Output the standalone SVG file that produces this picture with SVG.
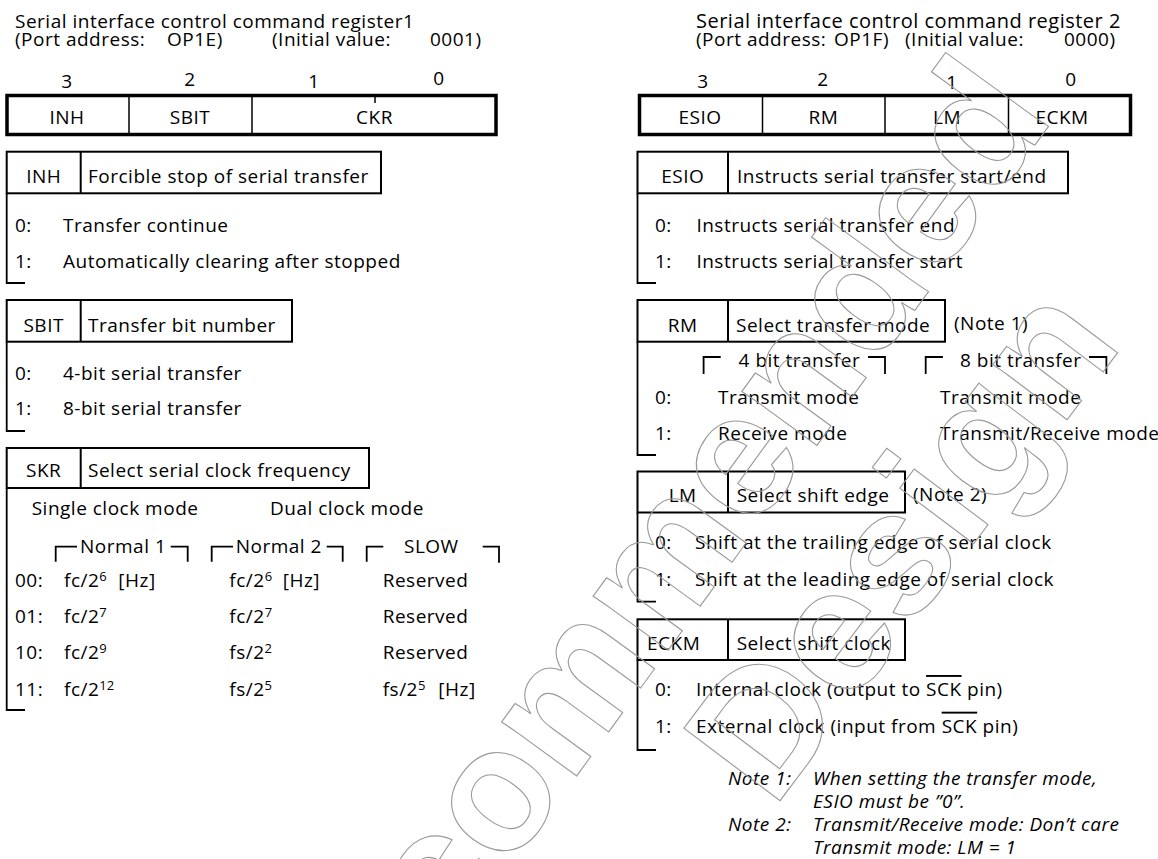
<svg xmlns="http://www.w3.org/2000/svg" width="1158" height="859" viewBox="0 0 1158 859">
<style>
text{font-family:"Open Sans","Noto Sans","DejaVu Sans",sans-serif;font-size:19px;letter-spacing:0.5px;fill:#000}
.m{text-anchor:middle}
.it{font-style:italic}
.sup{font-size:13px;letter-spacing:0}
.t2{font-size:20px}
.reg{fill:none;stroke:#000;stroke-width:3.5}
.dv{stroke:#000;stroke-width:1.5}
.hb{fill:none;stroke:#000;stroke-width:2}
.br{fill:none;stroke:#000;stroke-width:1.8}
.wm text{font-family:"Liberation Sans",Arial,sans-serif;font-weight:bold;font-size:175px;letter-spacing:0;fill:none;stroke:#9a9a9a;stroke-width:1.1}
</style>
<rect width="1158" height="859" fill="#fff"/>

<g id="title-left">
<text x="15" y="28">Serial interface control command register1</text>
<text x="15" y="46">(Port address:</text>
<text x="167" y="46">OP1E)</text>
<text x="272" y="46">(Initial value:</text>
<text x="430" y="46">0001)</text>
</g>

<g id="register1">
<text class="m" x="67" y="88">3</text>
<text class="m" x="190" y="85.5">2</text>
<text class="m" x="314" y="87.5">1</text>
<text class="m" x="439" y="84.5">0</text>
<rect class="reg" x="7" y="95.5" width="489" height="39"/>
<line class="dv" x1="129" y1="97" x2="129" y2="133"/>
<line class="dv" x1="252" y1="97" x2="252" y2="133"/>
<line class="dv" x1="375" y1="97" x2="375" y2="103"/>
<text class="m" x="67" y="123.5">INH</text>
<text class="m" x="190" y="123.5">SBIT</text>
<text class="m" x="374.5" y="123.5">CKR</text>
</g>

<g id="inh">
<rect class="hb" x="6.7" y="151.7" width="374.3" height="41.6"/>
<line class="hb" x1="80.7" y1="151.7" x2="80.7" y2="193.3"/>
<text class="m" x="43.7" y="183.3">INH</text>
<text x="88" y="183.3">Forcible stop of serial transfer</text>
<polyline class="br" points="6.7,193.3 6.7,283 25,283"/>
<text x="15" y="231.7">0:</text><text x="63" y="231.7">Transfer continue</text>
<text x="15" y="268">1:</text><text x="63" y="268">Automatically clearing after stopped</text>
</g>

<g id="sbit">
<rect class="hb" x="6.7" y="300" width="285.3" height="41.7"/>
<line class="hb" x1="80.7" y1="300" x2="80.7" y2="341.7"/>
<text class="m" x="43.7" y="331.7">SBIT</text>
<text x="88" y="331.7">Transfer bit number</text>
<polyline class="br" points="6.7,341.7 6.7,431 25,431"/>
<text x="15" y="380">0:</text><text x="63" y="380">4-bit serial transfer</text>
<text x="15" y="415">1:</text><text x="63" y="415">8-bit serial transfer</text>
</g>

<g id="skr">
<rect class="hb" x="6.7" y="448" width="362.3" height="40"/>
<line class="hb" x1="80.7" y1="448" x2="80.7" y2="488"/>
<text class="m" x="43.7" y="477">SKR</text>
<text x="88" y="477">Select serial clock frequency</text>
<polyline class="br" points="6.7,488 6.7,710 25,710"/>
<text x="31.7" y="515">Single clock mode</text>
<text x="270" y="515">Dual clock mode</text>
<polyline class="br" points="55.7,561.7 55.7,546.7 77,546.7"/>
<text x="80" y="552.7">Normal 1</text>
<polyline class="br" points="170.7,546.7 187.7,546.7 187.7,561.7"/>
<polyline class="br" points="211.7,561.7 211.7,546.7 233,546.7"/>
<text x="235.7" y="552.7">Normal 2</text>
<polyline class="br" points="326.7,546.7 342.7,546.7 342.7,561.7"/>
<polyline class="br" points="366.7,561.7 366.7,546.7 383.3,546.7"/>
<text x="404" y="552.7">SLOW</text>
<polyline class="br" points="482.7,546.7 499,546.7 499,562.7"/>

<text x="15" y="586.7">00:</text>
<text x="64" y="586.7">fc/2<tspan class="sup" dy="-6">6</tspan></text><text x="118.3" y="586.7">[Hz]</text>
<text x="229.3" y="586.7">fc/2<tspan class="sup" dy="-6">6</tspan></text><text x="282.7" y="586.7">[Hz]</text>
<text x="382.7" y="586.7">Reserved</text>

<text x="15" y="622.7">01:</text>
<text x="64" y="622.7">fc/2<tspan class="sup" dy="-6">7</tspan></text>
<text x="229.3" y="622.7">fc/2<tspan class="sup" dy="-6">7</tspan></text>
<text x="382.7" y="622.7">Reserved</text>

<text x="15" y="659.3">10:</text>
<text x="64" y="659.3">fc/2<tspan class="sup" dy="-6">9</tspan></text>
<text x="229.3" y="659.3">fs/2<tspan class="sup" dy="-6">2</tspan></text>
<text x="382.7" y="659.3">Reserved</text>

<text x="15" y="695.7">11:</text>
<text x="64" y="695.7">fc/2<tspan class="sup" dy="-6">12</tspan></text>
<text x="229.3" y="695.7">fs/2<tspan class="sup" dy="-6">5</tspan></text>
<text x="382.7" y="695.7">fs/2<tspan class="sup" dy="-6">5</tspan></text><text x="438.3" y="695.7">[Hz]</text>
</g>

<g id="title-right">
<text class="t2" x="696" y="28">Serial interface control command register 2</text>
<text x="696" y="46">(Port address:</text>
<text x="834" y="46">OP1F)</text>
<text x="905" y="46">(Initial value:</text>
<text x="1064" y="46">0000)</text>
</g>

<g id="register2">
<text class="m" x="703" y="88">3</text>
<text class="m" x="823" y="85.5">2</text>
<text class="m" x="952" y="89">1</text>
<text class="m" x="1071" y="85.5">0</text>
<rect class="reg" x="639.5" y="95.5" width="491" height="39"/>
<line class="dv" x1="762.5" y1="97" x2="762.5" y2="133"/>
<line class="dv" x1="885" y1="97" x2="885" y2="133"/>
<line class="dv" x1="1008.5" y1="97" x2="1008.5" y2="133"/>
<text class="m" x="700" y="123.5">ESIO</text>
<text class="m" x="823.5" y="123.5">RM</text>
<text class="m" x="947" y="123.5">LM</text>
<text class="m" x="1062" y="123.5">ECKM</text>
</g>

<g id="esio">
<rect class="hb" x="637.5" y="151.7" width="430.5" height="41.6"/>
<line class="hb" x1="728" y1="151.7" x2="728" y2="193.3"/>
<text class="m" x="682.7" y="183">ESIO</text>
<text x="737" y="183">Instructs serial transfer start/end</text>
<polyline class="br" points="637.5,193.3 637.5,283 656,283"/>
<text x="655" y="231.5">0:</text><text x="696.4" y="231.5">Instructs serial transfer end</text>
<text x="655" y="267.5">1:</text><text x="696.4" y="267.5">Instructs serial transfer start</text>
</g>

<g id="rm">
<rect class="hb" x="637.5" y="300" width="307.5" height="41.7"/>
<line class="hb" x1="728" y1="300" x2="728" y2="341.7"/>
<text class="m" x="682.7" y="331.5">RM</text>
<text x="736" y="331.5">Select transfer mode</text>
<text x="954" y="330">(Note 1)</text>
<polyline class="br" points="703.6,374 703.6,357 720.7,357"/>
<text x="738.6" y="367">4 bit transfer</text>
<polyline class="br" points="868,357 885,357 885,374"/>
<polyline class="br" points="925.7,374 925.7,357 942.9,357"/>
<text x="960" y="367">8 bit transfer</text>
<polyline class="br" points="1089,357 1106.4,357 1106.4,374"/>
<polyline class="br" points="637.5,341.7 637.5,455 656,455"/>
<text x="655" y="403.5">0:</text><text x="718" y="403.5">Transmit mode</text><text x="940" y="403.5">Transmit mode</text>
<text x="655" y="440">1:</text><text x="718" y="440">Receive mode</text><text x="940" y="440">Transmit/Receive mode</text>
</g>

<g id="lm">
<rect class="hb" x="637.5" y="471.5" width="267.5" height="41"/>
<line class="hb" x1="728" y1="471.5" x2="728" y2="512.5"/>
<text class="m" x="682.7" y="502">LM</text>
<text x="736.7" y="502">Select shift edge</text>
<text x="913" y="501">(Note 2)</text>
<polyline class="br" points="637.5,512.5 637.5,601.7 656,601.7"/>
<text x="655" y="549.3">0:</text><text x="695" y="549.3">Shift at the trailing edge of serial clock</text>
<text x="655" y="586">1:</text><text x="695" y="586">Shift at the leading edge of serial clock</text>
</g>

<g id="eckm">
<rect class="hb" x="637.5" y="619.3" width="267.5" height="40.7"/>
<line class="hb" x1="728" y1="619.3" x2="728" y2="660"/>
<text x="647" y="650">ECKM</text>
<text x="736.7" y="650">Select shift clock</text>
<polyline class="br" points="637.5,660 637.5,750 656,750"/>
<text x="655" y="696">0:</text><text x="696" y="696">Internal clock (output to <tspan text-decoration="overline">SCK</tspan> pin)</text>
<text x="655" y="732.7">1:</text><text x="696" y="732.7">External clock (input from <tspan text-decoration="overline">SCK</tspan> pin)</text>
</g>

<g id="notes">
<text class="it" x="728" y="785">Note 1:</text>
<text class="it" x="813" y="785">When setting the transfer mode,</text>
<text class="it" x="813" y="808">ESIO must be ”0”.</text>
<text class="it" x="728" y="831">Note 2:</text>
<text class="it" x="813" y="831">Transmit/Receive mode: Don’t care</text>
<text class="it" x="813" y="854">Transmit mode: LM = 1</text>
</g>

<g id="connectors"></g>

<g id="watermark" class="wm">
<g transform="translate(318,1132) rotate(-54)"><text x="0" y="0">Recommended</text></g>
<g transform="translate(773,810) rotate(-53)"><text x="0" y="0">Design</text></g>
</g>
</svg>
